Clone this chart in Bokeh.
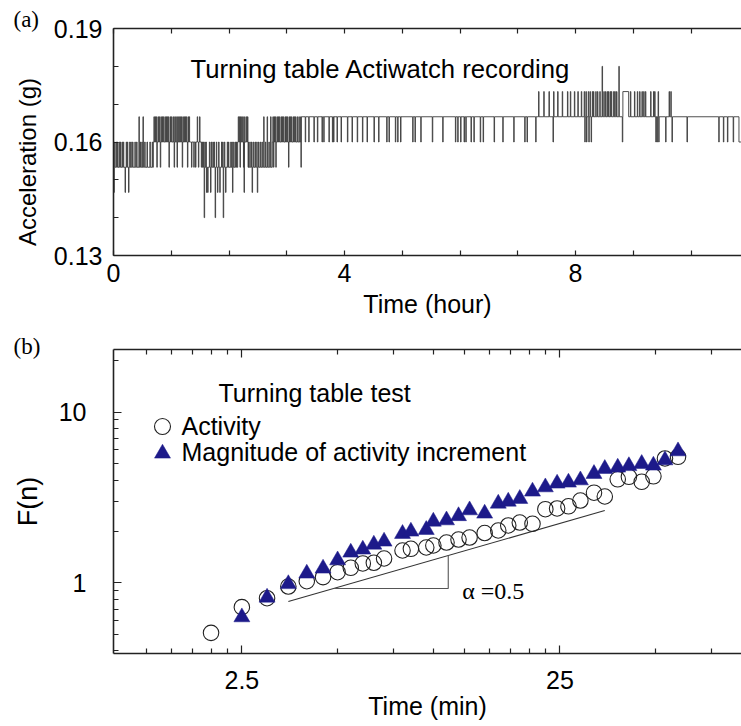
import math
from bokeh.plotting import figure
from bokeh.layouts import column
from bokeh.models import (FixedTicker, LinearAxis, LogAxis, Label, Legend, LegendItem,
                          CustomJSTickFormatter, Range1d)
from bokeh.embed import file_html
from bokeh.resources import INLINE

# ---------------- data: panel (a) acceleration recording ----------------
# quantised acceleration levels (g)
L140, L147, L153, L160, L167, L173, L180 = 0.14, 0.14667, 0.15333, 0.16, 0.16667, 0.17333, 0.18

acc_seg_start = [0.00, 0.35, 0.69, 1.33, 1.54, 2.15, 2.34, 2.75, 3.24, 8.82, 8.92, 10.83]
acc_seg_base = [L153, L153, L160, L160, L153, L160, L153, L160, L167, L173, L167, L160]
acc_end = 10.874

up160_t = [0.02, 0.05, 0.07, 0.10, 0.12, 0.15, 0.17, 0.22, 0.24, 0.28, 0.30, 0.33,
           0.37, 0.40, 0.46, 0.49, 0.54, 0.58, 0.63, 0.67,
           1.55, 1.58, 1.60, 1.66, 1.69, 1.72, 1.74, 1.78, 1.82, 1.87, 1.89, 1.92, 1.97,
           1.99, 2.03, 2.05, 2.08, 2.11, 2.13,
           2.36, 2.39, 2.42, 2.45, 2.48, 2.51, 2.54, 2.57, 2.63, 2.69]
up167_t = [0.44, 0.51,
           0.70, 0.72, 0.74, 0.77, 0.79, 0.82, 0.84, 0.86, 0.89, 0.91, 0.93, 0.95, 0.98,
           1.00, 1.03, 1.06, 1.08, 1.11, 1.13, 1.15, 1.17, 1.20, 1.22, 1.24, 1.26, 1.29, 1.31,
           1.45, 1.49,
           2.16, 2.18, 2.20, 2.22, 2.24, 2.27, 2.30, 2.32,
           2.60, 2.66, 2.72,
           2.76, 2.78, 2.80, 2.83, 2.85, 2.87, 2.90, 2.92, 2.94, 2.97, 2.99, 3.01, 3.04,
           3.06, 3.08, 3.11, 3.13, 3.15, 3.18, 3.21]
down153_t = [0.75, 0.81, 0.96, 1.05, 1.10, 1.19, 1.28,
             1.35, 1.39, 1.42, 1.47, 1.52,
             2.19, 2.25, 2.33,
             2.77, 2.81, 3.03, 3.245]
down147_t = [0.005, 0.20, 0.26,
             1.61, 1.63, 1.68, 1.80, 1.84, 1.94, 2.06,
             2.26, 2.40, 2.49]
down140_t = [1.57, 1.76, 1.90]
down160_t = [3.32, 3.38, 3.47, 3.53, 3.61, 3.64, 3.73, 3.79, 3.81, 3.87, 3.94, 4.05, 4.13,
             4.22, 4.31, 4.39, 4.51, 4.59, 4.73, 4.77, 4.88, 4.92, 4.97, 5.18, 5.22, 5.32,
             5.52, 5.70, 5.92, 5.96, 6.01, 6.07, 6.10, 6.19, 6.24, 6.35, 6.40, 6.59, 6.74,
             6.93, 7.12, 7.16, 7.31, 7.61, 8.16, 8.19, 8.23, 8.27, 8.81,
             9.39, 9.41, 9.44, 9.56, 9.67, 9.93, 10.48, 10.56, 10.63, 10.73]
up173_t = [7.36, 7.45, 7.54, 7.62, 7.69, 7.77, 7.86, 7.91, 7.98, 8.04, 8.10, 8.15, 8.18,
           8.22, 8.25, 8.29, 8.31, 8.35, 8.38, 8.42, 8.49, 8.52, 8.55, 8.57, 8.60, 8.62,
           8.66, 8.68, 8.71,
           8.95, 9.02, 9.07, 9.11, 9.15, 9.18, 9.21, 9.30, 9.35, 9.37, 9.43, 9.62, 9.65]
up180_t = [8.46, 8.75]

# ---------------- data: panel (b) DFA fluctuation ----------------
dfa_time_min = [2.0, 2.5, 3.0, 3.5, 4.0, 4.5, 5.0, 5.5, 6.0, 6.5, 7.0, 8.0, 8.5, 9.5, 10.0,
                11.0, 12.0, 13.0, 14.5, 16.0, 17.2, 18.7, 20.5, 22.5, 24.5, 26.6, 29.0, 32.0,
                34.6, 38.0, 41.2, 45.2, 49.2, 53.5, 58.8]
activity_F = [0.509, 0.72, 0.812, 0.951, 1.022, 1.079, 1.154, 1.224, 1.298, 1.31, 1.388,
              1.546, 1.582, 1.61, 1.654, 1.722, 1.793, 1.842, 1.957, 2.025, 2.167, 2.255,
              2.216, 2.699, 2.725, 2.807, 3.034, 3.372, 3.203, 4.04, 4.178, 3.906, 4.206,
              5.349, 5.473]
magnitude_time_min = dfa_time_min[1:]
magnitude_F = [0.629, 0.82, 0.984, 1.134, 1.213, 1.356, 1.505, 1.567, 1.676, 1.746, 1.937,
               1.998, 2.044, 2.286, 2.326, 2.462, 2.663, 2.547, 2.914, 2.994, 3.105, 3.427,
               3.631, 3.817, 3.869, 3.99, 4.35, 4.654, 4.737, 4.834, 4.979, 4.867, 5.227,
               5.902]
fit_x = [3.5, 34.6]
fit_y = [0.777, 2.65]
slope_tri_x = [4.86, 11.14]

# tick definitions
a_xticks, a_xminor = [0, 4, 8], [1, 2, 3, 5, 6, 7, 9, 10]
a_yticks, a_yminor = [0.13, 0.16, 0.19], [0.14, 0.15, 0.17, 0.18]
b_xticks = [2.5, 25]
b_xminor = [1.25, 1.5, 1.75, 2.0, 2.25, 5, 7.5, 10, 12.5, 15, 17.5, 20, 22.5, 50, 75]
b_yticks = [1, 10]
b_yminor = [0.4, 0.5, 0.6, 0.7, 0.8, 0.9, 2, 3, 4, 5, 6, 7, 8, 9, 20]

SANS = "Liberation Sans"
SERIF = "Liberation Serif"
AX = "#222222"
NBSP = "\u00a0"

# ---------------- build step series ----------------
spikes = ([(t, L160) for t in up160_t] + [(t, L167) for t in up167_t] +
          [(t, L153) for t in down153_t] + [(t, L147) for t in down147_t] +
          [(t, L140) for t in down140_t] + [(t, L160) for t in down160_t] +
          [(t, L173) for t in up173_t] + [(t, L180) for t in up180_t])
spikes.sort()
SPIKE_W = 0.008
acc_x, acc_y = [], []
for i, t0 in enumerate(acc_seg_start):
    t1 = acc_seg_start[i + 1] if i + 1 < len(acc_seg_start) else acc_end
    b = acc_seg_base[i]
    acc_x.append(t0); acc_y.append(b)
    for (t, v) in spikes:
        if t0 <= t < t1:
            acc_x += [t, t, t + SPIKE_W, t + SPIKE_W]
            acc_y += [b, v, v, b]
    acc_x.append(t1); acc_y.append(b)


def style_axis(ax, maj_in, min_in, standoff, labels=True):
    ax.axis_line_color = AX
    ax.axis_line_width = 1.6
    ax.major_tick_in = maj_in
    ax.major_tick_out = 0
    ax.minor_tick_in = min_in
    ax.minor_tick_out = 0
    ax.major_tick_line_color = AX
    ax.minor_tick_line_color = AX
    ax.major_tick_line_width = 1.2
    ax.minor_tick_line_width = 1.2
    ax.major_label_text_font = SANS
    ax.major_label_standoff = standoff
    if labels:
        ax.major_label_text_font_size = "25px"
        ax.major_label_text_color = "black"
    else:
        ax.major_label_text_font_size = "1px"
        ax.major_label_text_color = None
    ax.axis_label_text_font = SANS
    ax.axis_label_text_font_style = "normal"
    ax.axis_label_text_color = "black"


def lab(p, text, x, y, size, font=SANS, align="left", baseline="alphabetic"):
    p.add_layout(Label(x=x, y=y, x_units="screen", y_units="screen", text=text,
                       text_font=font, text_font_size=f"{size}px", text_align=align,
                       text_baseline=baseline, text_color="black"))


# ---------------- panel (a) ----------------
pa = figure(width=741, height=330, x_range=Range1d(0, 10.874), y_range=Range1d(0.13, 0.19),
            output_backend="svg", toolbar_location=None,
            min_border_left=113, min_border_right=0, min_border_top=28, min_border_bottom=75)
pa.outline_line_color = None
pa.grid.visible = False
pa.line(acc_x, acc_y, line_color="#3c3c3c", line_width=0.9)

pa.xaxis.ticker = FixedTicker(ticks=a_xticks, minor_ticks=a_xminor)
pa.yaxis.ticker = FixedTicker(ticks=a_yticks, minor_ticks=a_yminor)
style_axis(pa.xaxis[0], 5, 5, 8)
style_axis(pa.yaxis[0], 5, 5, 11)
pa.xaxis.axis_label = "Time (hour)"
pa.xaxis.axis_label_text_font_size = "25px"
pa.xaxis.axis_label_standoff = 5
pa.yaxis.axis_label = "Acceleration (g)" + NBSP * 6
pa.yaxis.axis_label_text_font_size = "24px"
pa.yaxis.axis_label_standoff = 10
top_a = LinearAxis(ticker=FixedTicker(ticks=a_xticks, minor_ticks=a_xminor))
style_axis(top_a, 5, 5, 0, labels=False)
pa.add_layout(top_a, "above")

pa.title.text = "(a)"
pa.title.align = "left"
pa.title.offset = -100
pa.title.standoff = -6
pa.title.text_font = SERIF
pa.title.text_font_size = "23px"
pa.title.text_font_style = "normal"
pa.title.text_color = "black"

lab(pa, "Turning table Actiwatch recording", 77, 186.7, 25.7)

# ---------------- panel (b) ----------------
pb = figure(width=741, height=396, x_axis_type="log", y_axis_type="log",
            x_range=Range1d(0.987, 93.1), y_range=Range1d(0.3853, 23.27),
            output_backend="svg", toolbar_location=None,
            min_border_left=113, min_border_right=0, min_border_top=19, min_border_bottom=73)
pb.outline_line_color = None
pb.grid.visible = False

fmt = CustomJSTickFormatter(code="return tick.toString()")
pb.xaxis.ticker = FixedTicker(ticks=b_xticks, minor_ticks=b_xminor)
pb.yaxis.ticker = FixedTicker(ticks=b_yticks, minor_ticks=b_yminor)
pb.xaxis.formatter = fmt
pb.yaxis.formatter = fmt
style_axis(pb.xaxis[0], 8, 5, 17)
style_axis(pb.yaxis[0], 8, 5, 27)
pb.xaxis.axis_label = "Time (min)"
pb.xaxis.axis_label_text_font_size = "25px"
pb.xaxis.axis_label_standoff = 0
pb.yaxis.axis_label = "F(n)"
pb.yaxis.axis_label_text_font_size = "27px"
pb.yaxis.axis_label_standoff = 13
top_b = LogAxis(ticker=FixedTicker(ticks=b_xticks, minor_ticks=b_xminor), formatter=fmt)
style_axis(top_b, 8, 5, 0, labels=False)
pb.add_layout(top_b, "above")

pb.title.text = "(b)"
pb.title.align = "left"
pb.title.offset = -100
pb.title.standoff = -18
pb.title.text_font = SERIF
pb.title.text_font_size = "23px"
pb.title.text_font_style = "normal"
pb.title.text_color = "black"

# fit line and slope triangle
slope = (math.log10(fit_y[1]) - math.log10(fit_y[0])) / (math.log10(fit_x[1]) - math.log10(fit_x[0]))


def on_fit(x):
    return fit_y[0] * (x / fit_x[0]) ** slope


tri_y0 = on_fit(slope_tri_x[0])
tri_y1 = on_fit(slope_tri_x[1])
pb.line(fit_x, fit_y, line_color="#333333", line_width=1.1)
pb.line([slope_tri_x[0], slope_tri_x[1], slope_tri_x[1]], [tri_y0, tri_y0, tri_y1],
        line_color="#555555", line_width=1.1)

circ = pb.scatter(dfa_time_min, activity_F, marker="circle", size=15.5, fill_color=None,
                  line_color="#222222", line_width=1.1)
tri = pb.scatter(magnitude_time_min, magnitude_F, marker="triangle", size=16,
                 fill_color="#1d1a8a", line_color="#1d1a8a", line_width=0.5)

legend_kw = dict(glyph_width=40, glyph_height=40, label_standoff=0, padding=0, margin=0,
                 border_line_color=None, background_fill_alpha=0, label_text_font=SANS,
                 label_text_font_size="25px", label_text_color="black")
pb.add_layout(Legend(items=[LegendItem(label="Activity", renderers=[circ])],
                     location=(28.5, 207), **legend_kw))
pb.add_layout(Legend(items=[LegendItem(label="Magnitude of activity increment",
                                       renderers=[tri])],
                     location=(28.5, 180.5), **legend_kw))

lab(pb, "Turning table test", 105, 260.3, 25)
lab(pb, "\u03b1 =0.5", 348.7, 63, 24, font=SERIF)

layout = column(pa, pb, spacing=0)
open("out.html", "w").write(file_html(layout, INLINE))
